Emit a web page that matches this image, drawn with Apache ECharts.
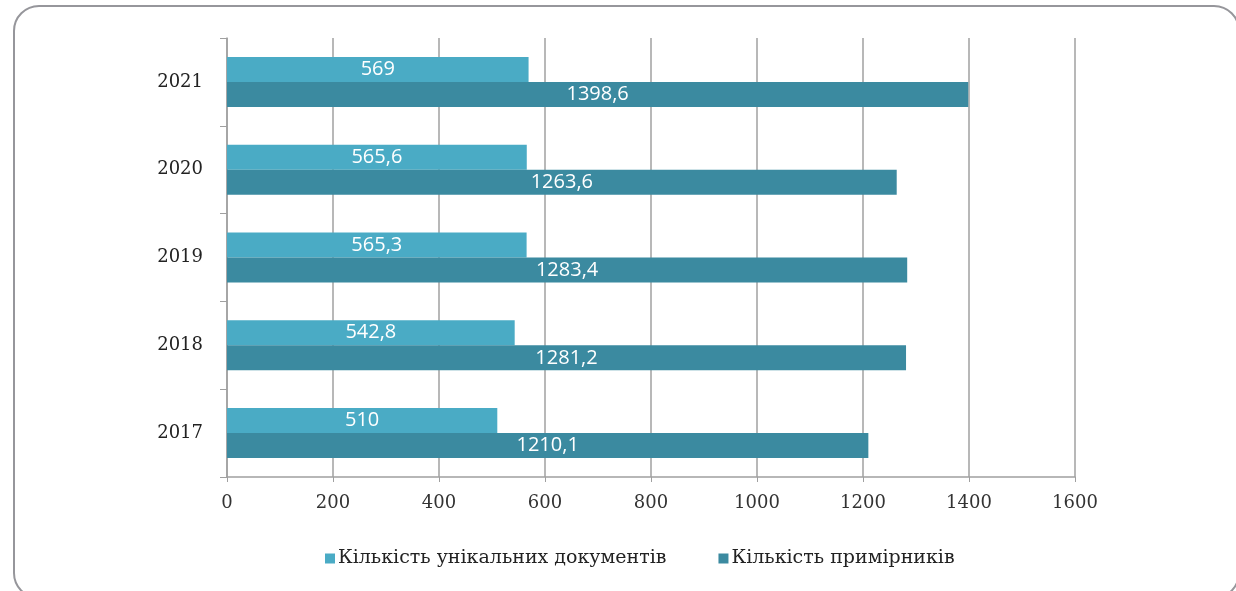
<!DOCTYPE html>
<html>
<head>
<meta charset="utf-8">
<script src="https://cdn.jsdelivr.net/npm/echarts@6/dist/echarts.min.js"></script>
<style>
html,body{margin:0;padding:0;background:#fff;overflow:hidden;}
#frame{position:absolute;left:13px;top:5px;width:1227px;height:594px;border:2px solid #96969b;border-radius:26px;box-sizing:border-box;}
#chart{position:absolute;left:0;top:0;width:1236px;height:591px;}
</style>
</head>
<body>
<div id="frame"></div>
<div id="chart"></div>
<script>
var categories = ['2017', '2018', '2019', '2020', '2021'];
var uniqueDocs = [510, 542.8, 565.3, 565.6, 569];
var copies = [1210.1, 1281.2, 1283.4, 1263.6, 1398.6];
var seriesNames = ['Кількість унікальних документів', 'Кількість примірників'];
var xTicks = {min: 0, max: 1600, step: 200};

var chart = echarts.init(document.getElementById('chart'));
function fmt(p){ return String(p.value).replace('.', ','); }
chart.setOption({
  animation: false,
  grid: {left: 227, right: 161, top: 38, bottom: 114, containLabel: false},
  legend: {
    top: 544, left: 320, itemWidth: 10, itemHeight: 10, itemGap: 52,
    icon: 'rect',
    textStyle: {fontFamily: 'DejaVu Serif', fontSize: 19, color: '#222', padding: [0, 0, 0, -2]},
    data: seriesNames
  },
  xAxis: {
    type: 'value', min: xTicks.min, max: xTicks.max, interval: xTicks.step,
    axisLine: {show: true, lineStyle: {color: '#a0a0a0', width: 1.5}},
    axisTick: {show: true, length: 5, lineStyle: {color: '#a0a0a0'}},
    splitLine: {show: true, lineStyle: {color: '#a0a0a0', width: 1.5}},
    axisLabel: {margin: 17, fontFamily: 'DejaVu Serif', fontSize: 18, color: '#333',
      formatter: function(v){ return String(v); }}
  },
  yAxis: {
    type: 'category', data: categories,
    axisLine: {show: true, lineStyle: {color: '#a0a0a0', width: 1.5}},
    axisTick: {show: true, length: 7, lineStyle: {color: '#a0a0a0'}},
    axisLabel: {margin: 24, fontFamily: 'DejaVu Serif', fontSize: 18, color: '#222'}
  },
  series: [
    {name: seriesNames[0], type: 'bar', data: uniqueDocs, barGap: '0%', barCategoryGap: '43%',
     itemStyle: {color: '#4aabc5'},
     label: {show: true, position: 'inside', formatter: fmt, color: '#fff', fontFamily: 'Open Sans', fontSize: 20}},
    {name: seriesNames[1], type: 'bar', data: copies, barGap: '0%', barCategoryGap: '43%',
     itemStyle: {color: '#3b8aa0'},
     label: {show: true, position: 'inside', formatter: fmt, color: '#fff', fontFamily: 'Open Sans', fontSize: 20}}
  ]
});
</script>
</body>
</html>
